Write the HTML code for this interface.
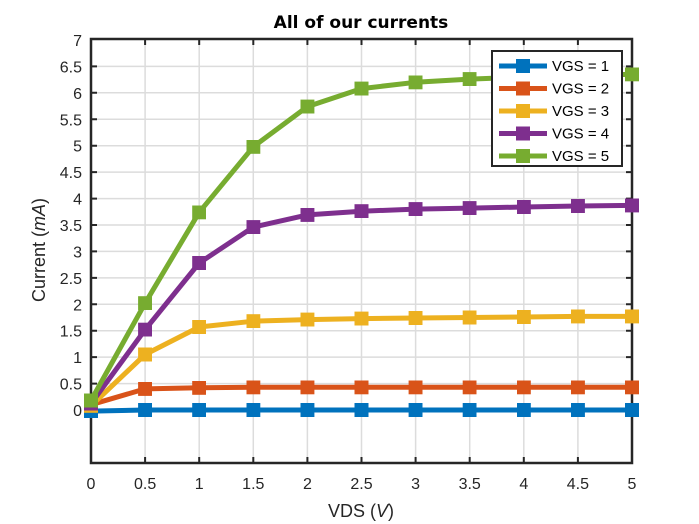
<!DOCTYPE html>
<html><head><meta charset="utf-8"><style>body{margin:0;background:#fff}svg{display:block}</style></head><body>
<svg width="699" height="524" xmlns="http://www.w3.org/2000/svg" font-family="Liberation Sans, sans-serif">
<defs>
<marker id="m1" markerUnits="userSpaceOnUse" markerWidth="14" markerHeight="14" refX="7" refY="7"><rect width="14" height="14" fill="#0072bd"/></marker>
<marker id="m2" markerUnits="userSpaceOnUse" markerWidth="14" markerHeight="14" refX="7" refY="7"><rect width="14" height="14" fill="#d95319"/></marker>
<marker id="m3" markerUnits="userSpaceOnUse" markerWidth="14" markerHeight="14" refX="7" refY="7"><rect width="14" height="14" fill="#edb120"/></marker>
<marker id="m4" markerUnits="userSpaceOnUse" markerWidth="14" markerHeight="14" refX="7" refY="7"><rect width="14" height="14" fill="#7e2f8e"/></marker>
<marker id="m5" markerUnits="userSpaceOnUse" markerWidth="14" markerHeight="14" refX="7" refY="7"><rect width="14" height="14" fill="#77ac30"/></marker>
</defs>
<rect width="699" height="524" fill="#fff"/>
<path stroke="#dcdcdc" stroke-width="1.5" fill="none" d="M145.1 39V463M199.2 39V463M253.3 39V463M307.4 39V463M361.5 39V463M415.6 39V463M469.7 39V463M523.8 39V463M577.9 39V463
M91 410H632M91 383.6H632M91 357.1H632M91 330.7H632M91 304.3H632M91 277.9H632M91 251.4H632M91 225H632M91 198.6H632M91 172.1H632M91 145.7H632M91 119.3H632M91 92.8H632M91 66.4H632"/>
<path stroke="#262626" stroke-width="2" fill="none" d="M145.1 39v6M199.2 39v6M253.3 39v6M307.4 39v6M361.5 39v6M415.6 39v6M469.7 39v6M523.8 39v6M577.9 39v6
M145.1 463v-6M199.2 463v-6M253.3 463v-6M307.4 463v-6M361.5 463v-6M415.6 463v-6M469.7 463v-6M523.8 463v-6M577.9 463v-6
M91 410h6M91 383.6h6M91 357.1h6M91 330.7h6M91 304.3h6M91 277.9h6M91 251.4h6M91 225h6M91 198.6h6M91 172.1h6M91 145.7h6M91 119.3h6M91 92.8h6M91 66.4h6
M632 410h-6M632 383.6h-6M632 357.1h-6M632 330.7h-6M632 304.3h-6M632 277.9h-6M632 251.4h-6M632 225h-6M632 198.6h-6M632 172.1h-6M632 145.7h-6M632 119.3h-6M632 92.8h-6M632 66.4h-6"/>
<rect x="91" y="39" width="541" height="424" fill="none" stroke="#262626" stroke-width="2.5"/>
<g font-size="16" fill="#262626" text-anchor="middle">
<text x="91" y="489">0</text><text x="145.1" y="489">0.5</text><text x="199.2" y="489">1</text><text x="253.3" y="489">1.5</text><text x="307.4" y="489">2</text><text x="361.5" y="489">2.5</text><text x="415.6" y="489">3</text><text x="469.7" y="489">3.5</text><text x="523.8" y="489">4</text><text x="577.9" y="489">4.5</text><text x="632" y="489">5</text>
</g>
<g font-size="16" fill="#262626" text-anchor="end">
<text x="82" y="416">0</text><text x="82" y="389.6">0.5</text><text x="82" y="363.1">1</text><text x="82" y="336.7">1.5</text><text x="82" y="310.3">2</text><text x="82" y="283.9">2.5</text><text x="82" y="257.4">3</text><text x="82" y="231">3.5</text><text x="82" y="204.6">4</text><text x="82" y="178.1">4.5</text><text x="82" y="151.7">5</text><text x="82" y="125.3">5.5</text><text x="82" y="98.8">6</text><text x="82" y="72.4">6.5</text><text x="82" y="46">7</text>
</g>
<g fill="none" stroke-width="5" stroke-linejoin="round">
<polyline stroke="#0072bd" marker-start="url(#m1)" marker-mid="url(#m1)" marker-end="url(#m1)" points="91,411.1 145.1,410 199.2,410 253.3,410 307.4,410 361.5,410 415.6,410 469.7,410 523.8,410 577.9,410 632,410"/>
<polyline stroke="#d95319" marker-start="url(#m2)" marker-mid="url(#m2)" marker-end="url(#m2)" points="91,404.7 145.1,388.9 199.2,387.8 253.3,387.3 307.4,387.3 361.5,387.3 415.6,387.3 469.7,387.3 523.8,387.3 577.9,387.3 632,387.3"/>
<polyline stroke="#edb120" marker-start="url(#m3)" marker-mid="url(#m3)" marker-end="url(#m3)" points="91,405.8 145.1,354.5 199.2,327 253.3,321.2 307.4,319.6 361.5,318.6 415.6,318 469.7,317.5 523.8,317 577.9,316.4 632,316.4"/>
<polyline stroke="#7e2f8e" marker-start="url(#m4)" marker-mid="url(#m4)" marker-end="url(#m4)" points="91,403.7 145.1,329.7 199.2,263 253.3,227.1 307.4,214.9 361.5,211.2 415.6,209.1 469.7,208.1 523.8,207 577.9,206 632,205.4"/>
<polyline stroke="#77ac30" marker-start="url(#m5)" marker-mid="url(#m5)" marker-end="url(#m5)" points="91,400.5 145.1,303.2 199.2,212.3 253.3,146.8 307.4,106.6 361.5,88.6 415.6,82.3 469.7,79.1 523.8,77 577.9,75.9 632,74.3"/>
</g>
<text x="361" y="28" text-anchor="middle" font-size="17" font-weight="bold" font-family="Comic Sans MS, DejaVu Sans, sans-serif" fill="#000">All of our currents</text>
<text x="361" y="517" text-anchor="middle" font-size="18" fill="#262626">VDS (<tspan font-style="italic">V</tspan>)</text>
<text transform="translate(45,250) rotate(-90)" text-anchor="middle" font-size="18" fill="#262626">Current (<tspan font-style="italic">mA</tspan>)</text>
<rect x="492" y="51" width="130" height="115" fill="#fff" stroke="#262626" stroke-width="2"/>
<g font-size="15" fill="#000">
<line x1="499" y1="66" x2="547" y2="66" stroke="#0072bd" stroke-width="5"/><rect x="516" y="59" width="14" height="14" fill="#0072bd"/><text x="552" y="71">VGS = 1</text>
<line x1="499" y1="88.5" x2="547" y2="88.5" stroke="#d95319" stroke-width="5"/><rect x="516" y="81.5" width="14" height="14" fill="#d95319"/><text x="552" y="93.5">VGS = 2</text>
<line x1="499" y1="111" x2="547" y2="111" stroke="#edb120" stroke-width="5"/><rect x="516" y="104" width="14" height="14" fill="#edb120"/><text x="552" y="116">VGS = 3</text>
<line x1="499" y1="133.5" x2="547" y2="133.5" stroke="#7e2f8e" stroke-width="5"/><rect x="516" y="126.5" width="14" height="14" fill="#7e2f8e"/><text x="552" y="138.5">VGS = 4</text>
<line x1="499" y1="156" x2="547" y2="156" stroke="#77ac30" stroke-width="5"/><rect x="516" y="149" width="14" height="14" fill="#77ac30"/><text x="552" y="161">VGS = 5</text>
</g>
</svg>
</body></html>
